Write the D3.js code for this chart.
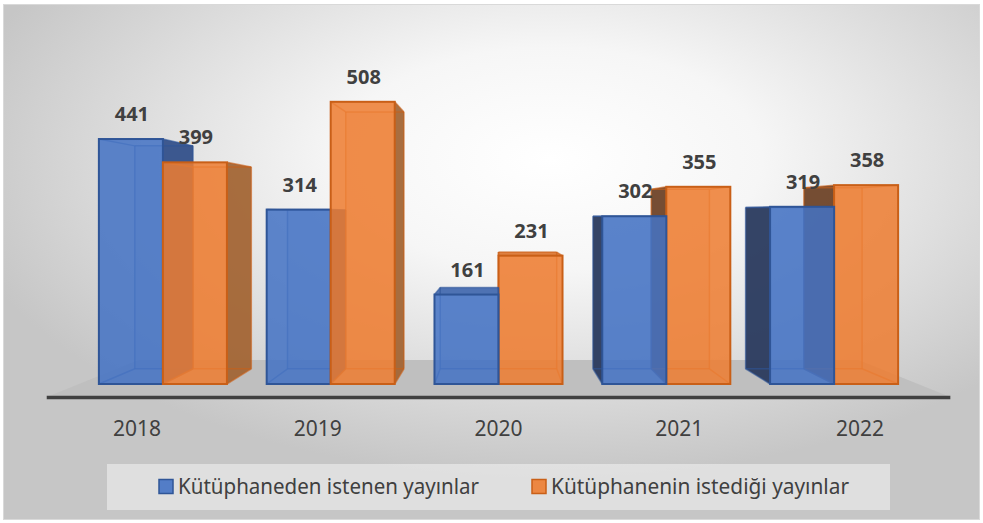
<!DOCTYPE html>
<html>
<head>
<meta charset="utf-8">
<script src="https://cdn.jsdelivr.net/npm/d3@7"></script>
<style>
  body { margin: 0; background: #fff; }
  text { font-family: "Noto Sans", "Open Sans", sans-serif; fill: #404040; }
</style>
</head>
<body>
<svg id="chart" width="983" height="523"></svg>
<script>
const years = ["2018", "2019", "2020", "2021", "2022"];
const seriesNames = ["Kütüphaneden istenen yayınlar", "Kütüphanenin istediği yayınlar"];
const requestedFrom = [441, 314, 161, 302, 319];
const requestedBy = [399, 508, 231, 355, 358];

const styles = [
    { front: "#4472c4", stroke: "#2f5597", sideR: "#2c4a86", sideL: "#26365a", top: "#3f66ad" },
    { front: "#ed7d31", stroke: "#c95f17", sideR: "#a0602f", sideL: "#6a4025", top: "#dc7430" }
];

const svg = d3.select("#chart");
const W = 983, H = 523;

// one-point perspective, bars are extruded toward the vanishing point
const vp = [498, 215];
const depth = 0.09;
const floorFront = -0.077, floorBack = 0.142;
function proj(px, py, d) {
    return [px + d * (vp[0] - px), py + d * (vp[1] - py)];
}

const x = d3.scaleBand().domain(years).range([79, 918]).paddingInner(0.237).paddingOuter(0.1185);
const xs = d3.scaleBand().domain([0, 1]).range([0, x.bandwidth()]);
const y = d3.scaleLinear().domain([0, 600]).range([384, 50.7]);

// background
const defs = svg.append("defs");
const grad = defs.append("radialGradient").attr("id", "bg")
    .attr("cx", "56%").attr("cy", "30%").attr("r", "62%");
grad.append("stop").attr("offset", "0%").attr("stop-color", "#ffffff");
grad.append("stop").attr("offset", "35%").attr("stop-color", "#f6f6f6");
grad.append("stop").attr("offset", "100%").attr("stop-color", "#c6c6c6");

svg.append("rect")
    .attr("x", 3.5).attr("y", 4.5).attr("width", W - 7).attr("height", H - 8)
    .attr("fill", "url(#bg)").attr("stroke", "#d9d9d9");

// floor
const [r0, r1] = x.range();
const floorPts = [
    proj(r0, y(0), floorFront), proj(r1, y(0), floorFront),
    proj(r1, y(0), floorBack), proj(r0, y(0), floorBack)
];
svg.append("polygon")
    .attr("points", floorPts.map(p => p.join(",")).join(" "))
    .attr("fill", "#bfbfbf");
svg.append("line")
    .attr("x1", floorPts[0][0]).attr("y1", floorPts[0][1] + 0.5)
    .attr("x2", floorPts[1][0]).attr("y2", floorPts[1][1] + 0.5)
    .attr("stroke", "#404040").attr("stroke-width", 3.5);

function poly(g, pts, fill, opacity) {
    g.append("polygon")
        .attr("points", pts.map(p => p.join(",")).join(" "))
        .attr("fill", fill).attr("fill-opacity", opacity)
        .attr("stroke", "none");
}

function drawBox(g, x0, x1, yTop, yBase, st) {
    const FTL = [x0, yTop], FTR = [x1, yTop], FBR = [x1, yBase], FBL = [x0, yBase];
    const BTL = proj(x0, yTop, depth), BTR = proj(x1, yTop, depth),
          BBR = proj(x1, yBase, depth), BBL = proj(x0, yBase, depth);
    const cx = (x0 + x1) / 2;

    poly(g, [BTL, BTR, BBR, BBL], st.front, 0.15);
    if (cx < vp[0]) poly(g, [FTR, BTR, BBR, FBR], st.sideR, 0.9);
    else poly(g, [FTL, BTL, BBL, FBL], st.sideL, 0.92);
    if (yTop > vp[1]) poly(g, [FTL, FTR, BTR, BTL], st.top, 0.9);

    // hidden edges show through the glassy front
    const edges = [[BTL, BTR], [BTR, BBR], [BBR, BBL], [BBL, BTL],
                   [FTL, BTL], [FTR, BTR], [FBR, BBR], [FBL, BBL]];
    g.selectAll(null).data(edges).enter().append("line")
        .attr("x1", d => d[0][0]).attr("y1", d => d[0][1])
        .attr("x2", d => d[1][0]).attr("y2", d => d[1][1])
        .attr("stroke", st.stroke).attr("stroke-width", 1.5).attr("stroke-opacity", 0.6);

    g.append("rect")
        .attr("x", x0).attr("y", yTop).attr("width", x1 - x0).attr("height", yBase - yTop)
        .attr("fill", st.front).attr("fill-opacity", 0.86)
        .attr("stroke", st.stroke).attr("stroke-width", 2);
}

const values = [requestedFrom, requestedBy];
const bars = svg.append("g");
years.forEach((yr, i) => {
    // paint the box farther from the vanishing point first
    const order = [0, 1].map(s => ({ s, x0: x(yr) + xs(s) }))
        .sort((a, b) => Math.abs(b.x0 + xs.bandwidth() / 2 - vp[0]) - Math.abs(a.x0 + xs.bandwidth() / 2 - vp[0]));
    order.forEach(o => {
        const g = bars.append("g");
        drawBox(g, o.x0, o.x0 + xs.bandwidth(), y(values[o.s][i]), y(0), styles[o.s]);
    });
});

// data labels
years.forEach((yr, i) => {
    [0, 1].forEach(s => {
        svg.append("text")
            .attr("x", x(yr) + xs(s) + xs.bandwidth() / 2 + 1)
            .attr("y", y(values[s][i]) - 18)
            .attr("text-anchor", "middle")
            .attr("font-size", 20).attr("font-weight", "bold")
            .text(values[s][i]);
    });
});

// category labels on the front edge of the floor
svg.selectAll(".cat").data(years).enter().append("text")
    .attr("class", "cat")
    .attr("x", d => proj(x(d) + x.bandwidth() / 2, y(0), floorFront)[0])
    .attr("y", 436)
    .attr("text-anchor", "middle")
    .attr("font-size", 21)
    .text(d => d);

// legend
svg.append("rect")
    .attr("x", 107).attr("y", 464).attr("width", 783).attr("height", 46)
    .attr("fill", "#f4f4f4").attr("fill-opacity", 0.55);

const legendX = [159, 532];
const legendLen = [301, 298];
seriesNames.forEach((name, s) => {
    svg.append("rect")
        .attr("x", legendX[s]).attr("y", 479.5).attr("width", 14).attr("height", 14)
        .attr("fill", styles[s].front).attr("fill-opacity", 0.9)
        .attr("stroke", styles[s].stroke).attr("stroke-width", 1.5);
    svg.append("text")
        .attr("x", legendX[s] + 19).attr("y", 494)
        .attr("font-size", 21)
        .attr("textLength", legendLen[s]).attr("lengthAdjust", "spacingAndGlyphs")
        .text(name);
});
</script>
</body>
</html>
